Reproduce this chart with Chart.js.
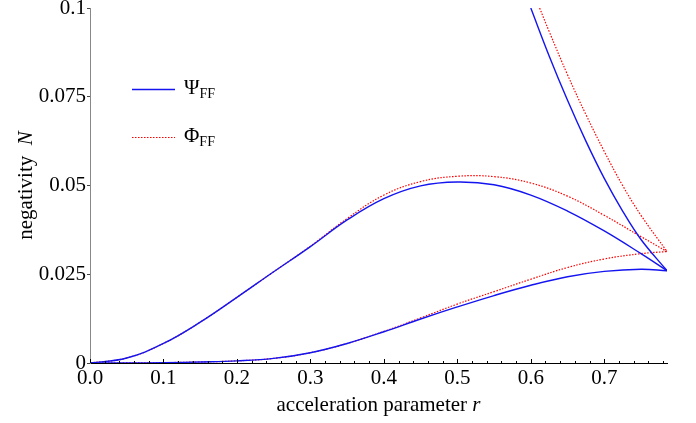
<!DOCTYPE html>
<html lang="en">
<head>
  <meta charset="UTF-8" />
  <title>Negativity vs acceleration parameter</title>
  <script src="https://cdn.jsdelivr.net/npm/chart.js"></script>
  <style>
    body {
      margin: 0;
      background: #fff;
    }
    .wrap {
      width: 696px;
      height: 423px;
    }
  </style>
</head>
<body>
  <div class="wrap">
    <canvas id="negChart" width="696" height="423"></canvas>
  </div>

  <script>
    const R_MAX = Math.PI / 4;
    const xTicks = [0, 0.1, 0.2, 0.3, 0.4, 0.5, 0.6, 0.7];
    const yTicks = [0, 0.025, 0.05, 0.075, 0.1];
    const yTickLabels = ['0', '0.025', '0.05', '0.075', '0.1'];

    // sample points in r shared by the two slow branches
    const rGrid = [0, 0.05, 0.1, 0.15, 0.2, 0.25, 0.3, 0.35, 0.4, 0.45, 0.5, 0.55, 0.6, 0.65, 0.7, 0.75, 0.7854];

    // Psi_FF (blue, solid)
    const psiHumpN = [0, 0.0014, 0.0055, 0.0115, 0.0185, 0.0257, 0.0328, 0.0403, 0.0463, 0.0499, 0.0510, 0.0502, 0.0473, 0.0428, 0.0372, 0.0308, 0.0260];
    const psiLowN  = [0, 0.00001, 0.0001, 0.0003, 0.0006, 0.0013, 0.0029, 0.0055, 0.0088, 0.0124, 0.0158, 0.0190, 0.0219, 0.0243, 0.0258, 0.0264, 0.0260];
    const psiSteepR = [0.600, 0.625, 0.65, 0.675, 0.70, 0.725, 0.75, 0.7854];
    const psiSteepN = [0.100, 0.0865, 0.0740, 0.0625, 0.0520, 0.0428, 0.0348, 0.0260];

    // Phi_FF (red, dotted)
    const phiHumpN = [0, 0.0014, 0.0055, 0.0115, 0.0185, 0.0257, 0.0329, 0.0407, 0.0473, 0.0511, 0.0526, 0.0525, 0.0507, 0.0470, 0.0416, 0.0356, 0.0314];
    const phiLowN  = [0, 0.00001, 0.0001, 0.0003, 0.0006, 0.0013, 0.0029, 0.0055, 0.0089, 0.0127, 0.0166, 0.0201, 0.0236, 0.0269, 0.0293, 0.0308, 0.0314];
    const phiSteepR = [0.612, 0.625, 0.65, 0.675, 0.70, 0.725, 0.75, 0.7854];
    const phiSteepN = [0.100, 0.0934, 0.0812, 0.0700, 0.0596, 0.0500, 0.0416, 0.0314];

    const BLUE = 'rgb(20,20,240)';
    const RED = 'rgb(255,0,0)';
    const FONT = "'Liberation Serif', 'Times New Roman', serif";

    function pts(xs, ys) {
      return xs.map((x, i) => ({ x: x, y: ys[i] }));
    }

    function curve(label, xs, ys, color, dashed) {
      return {
        label: label,
        data: pts(xs, ys),
        borderColor: color,
        borderWidth: dashed ? 1.2 : 1.4,
        borderDash: dashed ? [1.5, 1.5] : [],
        pointRadius: 0,
        fill: false,
        tension: 0.4
      };
    }

    // inward x ticks, axis titles and the little legend
    const decorPlugin = {
      id: 'decor',
      afterDraw(chart) {
        const ctx = chart.ctx;
        const xs = chart.scales.x;
        const area = chart.chartArea;

        ctx.save();
        ctx.strokeStyle = '#000';
        ctx.lineWidth = 1;
        for (let i = 0; i <= 39; i++) {
          const px = Math.round(xs.getPixelForValue(i * 0.02)) + 0.5;
          const len = (i % 5 === 0) ? 4 : 2;
          ctx.beginPath();
          ctx.moveTo(px, area.bottom);
          ctx.lineTo(px, area.bottom - len);
          ctx.stroke();
        }

        // x title
        ctx.fillStyle = '#000';
        ctx.textBaseline = 'alphabetic';
        ctx.font = '21px ' + FONT;
        const part1 = 'acceleration parameter ';
        const w1 = ctx.measureText(part1).width;
        ctx.font = 'italic 21px ' + FONT;
        const w2 = ctx.measureText('r').width;
        const tx = (area.left + area.right) / 2 - (w1 + w2) / 2;
        ctx.font = '21px ' + FONT;
        ctx.fillText(part1, tx, 411);
        ctx.font = 'italic 21px ' + FONT;
        ctx.fillText('r', tx + w1, 411);

        // y title
        ctx.save();
        ctx.translate(32, (area.top + area.bottom) / 2);
        ctx.rotate(-Math.PI / 2);
        ctx.font = '21px ' + FONT;
        const y1 = 'negativity  ';
        const yw1 = ctx.measureText(y1).width;
        ctx.font = 'italic 21px ' + FONT;
        const yw2 = ctx.measureText('N').width;
        ctx.font = '21px ' + FONT;
        ctx.fillText(y1, -(yw1 + yw2) / 2, 0);
        ctx.font = 'italic 21px ' + FONT;
        ctx.fillText('N', -(yw1 + yw2) / 2 + yw1, 0);
        ctx.restore();

        // legend
        const entries = [
          { sym: '\u03A8', color: BLUE, dash: [], y: 89 },
          { sym: '\u03A6', color: RED, dash: [1.5, 1.5], y: 137 }
        ];
        entries.forEach(e => {
          ctx.beginPath();
          ctx.strokeStyle = e.color;
          ctx.lineWidth = e.dash.length ? 1.2 : 1.4;
          ctx.setLineDash(e.dash);
          ctx.moveTo(132, e.y + 0.5);
          ctx.lineTo(175, e.y + 0.5);
          ctx.stroke();
          ctx.setLineDash([]);
          ctx.fillStyle = '#000';
          ctx.font = '21px ' + FONT;
          ctx.fillText(e.sym, 184, e.y + 5);
          const sw = ctx.measureText(e.sym).width;
          ctx.font = '14px ' + FONT;
          ctx.fillText('FF', 184 + sw, e.y + 9);
        });
        ctx.restore();
      }
    };

    const chart = new Chart(document.getElementById('negChart'), {
      type: 'line',
      data: {
        datasets: [
          curve('Psi hump', rGrid, psiHumpN, BLUE, false),
          curve('Psi low', rGrid, psiLowN, BLUE, false),
          curve('Psi steep', psiSteepR, psiSteepN, BLUE, false),
          curve('Phi hump', rGrid, phiHumpN, RED, true),
          curve('Phi low', rGrid, phiLowN, RED, true),
          curve('Phi steep', phiSteepR, phiSteepN, RED, true)
        ]
      },
      options: {
        responsive: false,
        animation: false,
        devicePixelRatio: 1,
        layout: { padding: { top: 8, right: 29, left: 0, bottom: 0 } },
        plugins: {
          legend: { display: false },
          tooltip: { enabled: false }
        },
        scales: {
          x: {
            type: 'linear',
            min: 0,
            max: R_MAX,
            afterBuildTicks: s => { s.ticks = xTicks.map(v => ({ value: v })); },
            afterFit: s => { s.height = 60; s.paddingLeft = 0; s.paddingRight = 0; },
            ticks: {
              color: '#000',
              font: { family: FONT, size: 21 },
              padding: 3,
              maxRotation: 0,
              autoSkip: false,
              callback: v => Number(v).toFixed(1)
            },
            grid: { drawOnChartArea: false, drawTicks: false },
            border: { color: '#000', width: 1 }
          },
          y: {
            min: 0,
            max: 0.1,
            afterBuildTicks: s => { s.ticks = yTicks.map(v => ({ value: v })); },
            afterFit: s => { s.width = 90; s.paddingTop = 0; s.paddingBottom = 0; },
            ticks: {
              color: '#000',
              font: { family: FONT, size: 21 },
              padding: 1,
              callback: (v) => yTickLabels[yTicks.indexOf(v)]
            },
            grid: { drawOnChartArea: false, drawTicks: true, tickLength: 3, color: '#444' },
            border: { color: '#888', width: 1 }
          }
        }
      },
      plugins: [decorPlugin]
    });
  </script>
</body>
</html>
